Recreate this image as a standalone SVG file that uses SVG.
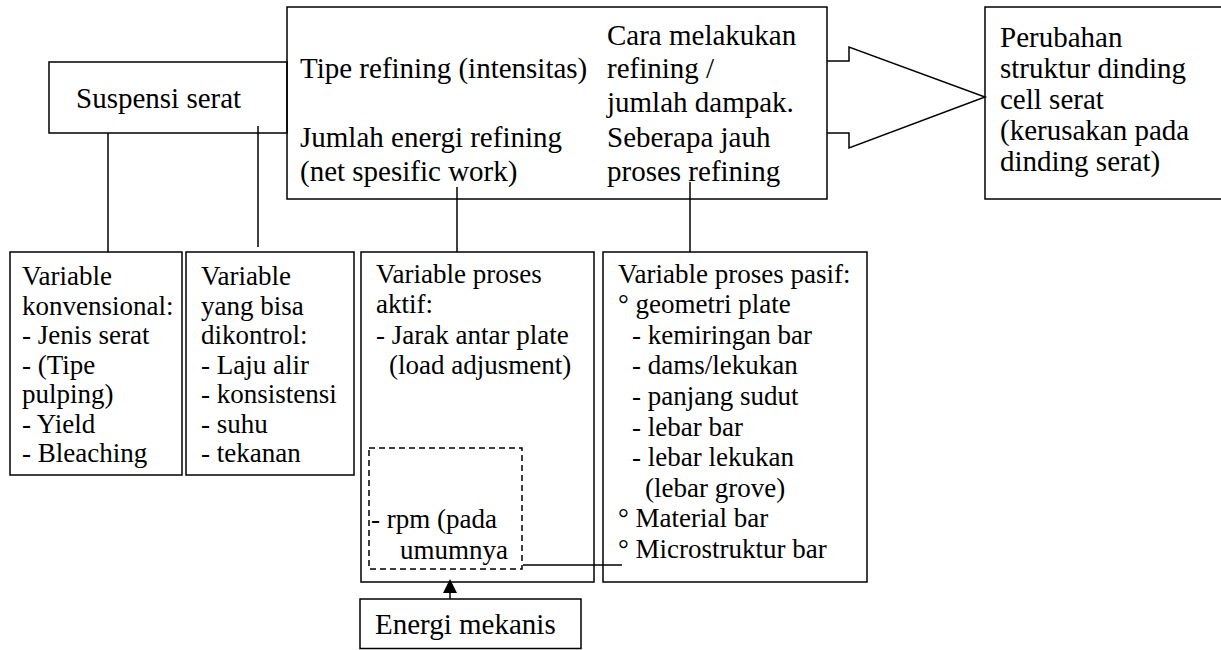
<svg xmlns="http://www.w3.org/2000/svg" width="1221" height="650" viewBox="0 0 1221 650" font-family="Liberation Serif, Times New Roman, serif" font-size="27">
<style>
.b{fill:none;stroke:#000;stroke-width:1.5}
.d{fill:none;stroke:#000;stroke-width:1.5;stroke-dasharray:6 4}
.L{font-size:29px}
</style>
<rect width="1221" height="650" fill="#fff"/>
<g id="connectors">
<line class="b" x1="108" y1="133" x2="108" y2="252"/>
<line class="b" x1="258" y1="126" x2="258" y2="247"/>
<line class="b" x1="457" y1="187" x2="457" y2="252"/>
<line class="b" x1="690" y1="182" x2="690" y2="252"/>
<line class="b" x1="523" y1="565" x2="622" y2="565"/>
<line class="b" x1="450" y1="599" x2="450" y2="592"/>
<polygon points="450,579 443,593 457,593" fill="#000"/>
<polyline class="b" points="827,61 849,61 849,47 985,97 849,148 849,133 827,133"/>
</g>
<g id="suspensi">
<rect class="b" x="49" y="62" width="238" height="71"/>
<text class="L" x="76" y="108">Suspensi serat</text>
</g>
<g id="refining">
<rect class="b" x="287" y="7" width="540" height="192"/>
<text class="L" x="300" y="78">Tipe refining (intensitas)</text>
<text class="L" x="300" y="147">Jumlah energi refining</text>
<text class="L" x="300" y="181">(net spesific work)</text>
<text class="L" x="607" y="45">Cara melakukan</text>
<text class="L" x="607" y="78">refining /</text>
<text class="L" x="607" y="112">jumlah dampak.</text>
<text class="L" x="607" y="147">Seberapa jauh</text>
<text class="L" x="607" y="181">proses refining</text>
</g>
<g id="perubahan">
<rect class="b" x="985" y="7" width="240" height="192"/>
<text class="L" x="1000" y="47">Perubahan</text>
<text class="L" x="1000" y="78">struktur dinding</text>
<text class="L" x="1000" y="109">cell serat</text>
<text class="L" x="1000" y="140">(kerusakan pada</text>
<text class="L" x="1000" y="171">dinding serat)</text>
</g>
<g id="konvensional">
<rect class="b" x="10" y="252" width="172" height="223"/>
<text x="22" y="285">Variable</text>
<text x="22" y="314.5">konvensional:</text>
<text x="22" y="344">- Jenis serat</text>
<text x="22" y="373.5">- (Tipe</text>
<text x="22" y="403">pulping)</text>
<text x="22" y="432.5">- Yield</text>
<text x="22" y="462">- Bleaching</text>
</g>
<g id="dikontrol">
<rect class="b" x="186" y="252" width="168" height="223"/>
<text x="201" y="285">Variable</text>
<text x="201" y="314.5">yang bisa</text>
<text x="201" y="344">dikontrol:</text>
<text x="201" y="373.5">- Laju alir</text>
<text x="201" y="403">- konsistensi</text>
<text x="201" y="432.5">- suhu</text>
<text x="201" y="462">- tekanan</text>
</g>
<g id="aktif">
<rect class="b" x="361" y="252" width="233" height="330"/>
<text x="376" y="283">Variable proses</text>
<text x="376" y="313">aktif:</text>
<text x="376" y="344">- Jarak antar plate</text>
<text x="389" y="374">(load adjusment)</text>
<rect class="d" x="369" y="448" width="153" height="121"/>
<text x="371" y="528">- rpm (pada</text>
<text x="400" y="559">umumnya</text>
</g>
<g id="pasif">
<rect class="b" x="603" y="252" width="264" height="330"/>
<text x="618" y="283">Variable proses pasif:</text>
<text x="618" y="313">° geometri plate</text>
<text x="632" y="344">- kemiringan bar</text>
<text x="632" y="374">- dams/lekukan</text>
<text x="632" y="405">- panjang sudut</text>
<text x="632" y="436">- lebar bar</text>
<text x="632" y="466">- lebar lekukan</text>
<text x="645" y="497">(lebar grove)</text>
<text x="618" y="527">° Material bar</text>
<text x="618" y="558">° Microstruktur bar</text>
</g>
<g id="energi">
<rect class="b" x="360" y="599" width="221" height="49.5"/>
<text class="L" x="375" y="634">Energi mekanis</text>
</g>
</svg>
